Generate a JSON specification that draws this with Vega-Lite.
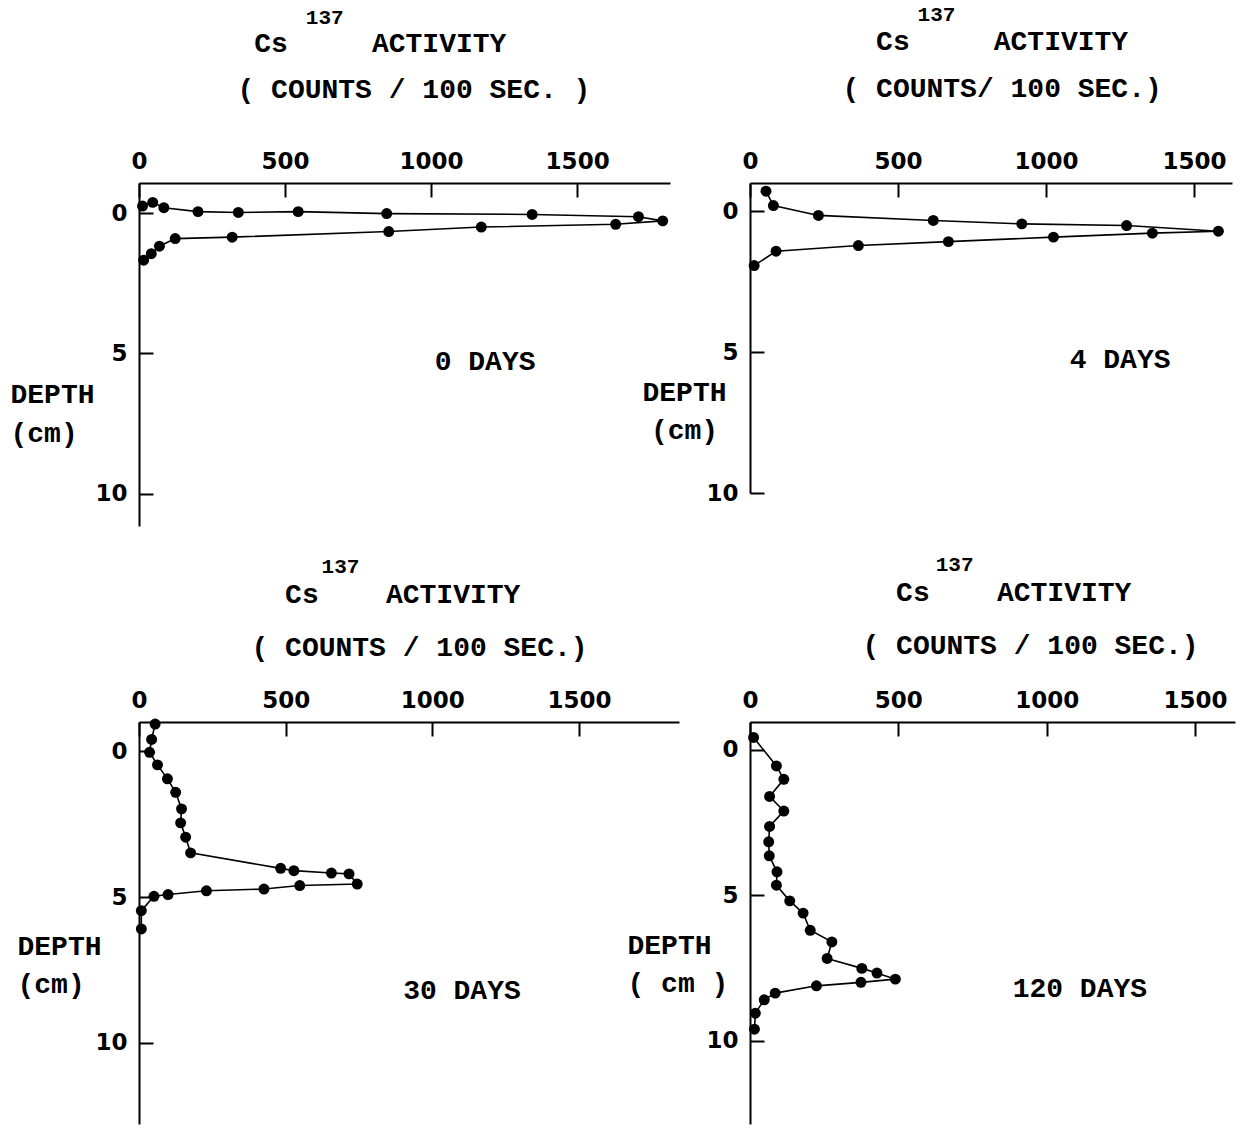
{
  "$schema": "https://vega.github.io/schema/vega-lite/v6.json",
  "background": "white",
  "padding": {"left": 10, "top": 4, "right": 5, "bottom": 5},
  "columns": 2,
  "spacing": {"row": 196, "column": 71},
  "bounds": "flush",
  "align": "each",
  "datasets": {
    "profiles": [
      {"days": 0, "seq": 1, "activity": 12, "depth": -0.25},
      {"days": 0, "seq": 2, "activity": 47, "depth": -0.38},
      {"days": 0, "seq": 3, "activity": 85, "depth": -0.19},
      {"days": 0, "seq": 4, "activity": 202, "depth": -0.05},
      {"days": 0, "seq": 5, "activity": 340, "depth": -0.02},
      {"days": 0, "seq": 6, "activity": 545, "depth": -0.05},
      {"days": 0, "seq": 7, "activity": 848, "depth": 0.02},
      {"days": 0, "seq": 8, "activity": 1346, "depth": 0.05},
      {"days": 0, "seq": 9, "activity": 1710, "depth": 0.13},
      {"days": 0, "seq": 10, "activity": 1793, "depth": 0.28},
      {"days": 0, "seq": 11, "activity": 1632, "depth": 0.40},
      {"days": 0, "seq": 12, "activity": 1172, "depth": 0.50},
      {"days": 0, "seq": 13, "activity": 855, "depth": 0.66},
      {"days": 0, "seq": 14, "activity": 319, "depth": 0.86},
      {"days": 0, "seq": 15, "activity": 124, "depth": 0.91},
      {"days": 0, "seq": 16, "activity": 70, "depth": 1.18},
      {"days": 0, "seq": 17, "activity": 42, "depth": 1.45},
      {"days": 0, "seq": 18, "activity": 16, "depth": 1.68},
      {"days": 4, "seq": 1, "activity": 54, "depth": -0.71},
      {"days": 4, "seq": 2, "activity": 79, "depth": -0.20},
      {"days": 4, "seq": 3, "activity": 231, "depth": 0.15},
      {"days": 4, "seq": 4, "activity": 619, "depth": 0.33},
      {"days": 4, "seq": 5, "activity": 918, "depth": 0.45},
      {"days": 4, "seq": 6, "activity": 1272, "depth": 0.51},
      {"days": 4, "seq": 7, "activity": 1582, "depth": 0.71},
      {"days": 4, "seq": 8, "activity": 1359, "depth": 0.78},
      {"days": 4, "seq": 9, "activity": 1025, "depth": 0.92},
      {"days": 4, "seq": 10, "activity": 670, "depth": 1.08},
      {"days": 4, "seq": 11, "activity": 366, "depth": 1.22},
      {"days": 4, "seq": 12, "activity": 88, "depth": 1.42},
      {"days": 4, "seq": 13, "activity": 14, "depth": 1.93},
      {"days": 30, "seq": 1, "activity": 55, "depth": -0.94},
      {"days": 30, "seq": 2, "activity": 43, "depth": -0.41},
      {"days": 30, "seq": 3, "activity": 36, "depth": 0.03},
      {"days": 30, "seq": 4, "activity": 63, "depth": 0.46},
      {"days": 30, "seq": 5, "activity": 97, "depth": 0.94},
      {"days": 30, "seq": 6, "activity": 125, "depth": 1.40},
      {"days": 30, "seq": 7, "activity": 145, "depth": 1.97},
      {"days": 30, "seq": 8, "activity": 142, "depth": 2.45},
      {"days": 30, "seq": 9, "activity": 159, "depth": 2.94},
      {"days": 30, "seq": 10, "activity": 176, "depth": 3.48},
      {"days": 30, "seq": 11, "activity": 483, "depth": 4.01},
      {"days": 30, "seq": 12, "activity": 528, "depth": 4.09},
      {"days": 30, "seq": 13, "activity": 656, "depth": 4.17},
      {"days": 30, "seq": 14, "activity": 716, "depth": 4.20},
      {"days": 30, "seq": 15, "activity": 744, "depth": 4.55},
      {"days": 30, "seq": 16, "activity": 548, "depth": 4.60},
      {"days": 30, "seq": 17, "activity": 426, "depth": 4.72},
      {"days": 30, "seq": 18, "activity": 230, "depth": 4.78},
      {"days": 30, "seq": 19, "activity": 99, "depth": 4.91},
      {"days": 30, "seq": 20, "activity": 51, "depth": 4.97},
      {"days": 30, "seq": 21, "activity": 8, "depth": 5.46},
      {"days": 30, "seq": 22, "activity": 8, "depth": 6.09},
      {"days": 120, "seq": 1, "activity": 12, "depth": -0.43},
      {"days": 120, "seq": 2, "activity": 89, "depth": 0.55},
      {"days": 120, "seq": 3, "activity": 114, "depth": 1.01},
      {"days": 120, "seq": 4, "activity": 66, "depth": 1.60},
      {"days": 120, "seq": 5, "activity": 114, "depth": 2.10},
      {"days": 120, "seq": 6, "activity": 66, "depth": 2.63},
      {"days": 120, "seq": 7, "activity": 63, "depth": 3.16},
      {"days": 120, "seq": 8, "activity": 65, "depth": 3.64},
      {"days": 120, "seq": 9, "activity": 91, "depth": 4.19},
      {"days": 120, "seq": 10, "activity": 89, "depth": 4.65},
      {"days": 120, "seq": 11, "activity": 134, "depth": 5.19},
      {"days": 120, "seq": 12, "activity": 179, "depth": 5.61},
      {"days": 120, "seq": 13, "activity": 203, "depth": 6.20},
      {"days": 120, "seq": 14, "activity": 276, "depth": 6.60},
      {"days": 120, "seq": 15, "activity": 260, "depth": 7.17},
      {"days": 120, "seq": 16, "activity": 377, "depth": 7.51},
      {"days": 120, "seq": 17, "activity": 428, "depth": 7.67},
      {"days": 120, "seq": 18, "activity": 490, "depth": 7.88},
      {"days": 120, "seq": 19, "activity": 374, "depth": 7.99},
      {"days": 120, "seq": 20, "activity": 224, "depth": 8.11},
      {"days": 120, "seq": 21, "activity": 85, "depth": 8.36},
      {"days": 120, "seq": 22, "activity": 48, "depth": 8.59},
      {"days": 120, "seq": 23, "activity": 18, "depth": 9.05},
      {"days": 120, "seq": 24, "activity": 15, "depth": 9.60}
    ]
  },
  "concat": [
    {
      "width": 531,
      "height": 343,
      "layer": [
        {"data": {"name": "profiles"}, "transform": [{"filter": {"field": "days", "equal": 0}}],
          "mark": {"type": "line", "color": "black", "strokeWidth": 1.6},
          "encoding": {
            "x": {"field": "activity", "type": "quantitative",
              "scale": {"domain": [0, 1818], "nice": false, "zero": false},
              "axis": {"orient": "top", "values": [0, 500, 1000, 1500], "format": "d",
                "title": ["\u200b\u00a0Cs\u00a0\u00a0\u00a0\u00a0\u00a0ACTIVITY", "( COUNTS / 100 SEC. )"],
                "titleAlign": "left", "titleBaseline": "alphabetic", "titleX": 98, "titleY": -132, "titleLineHeight": 46}},
            "y": {"field": "depth", "type": "quantitative",
              "scale": {"domain": [-1.07, 11.15], "nice": false, "zero": false, "reverse": true},
              "axis": {"orient": "left", "values": [0, 5, 10],
                "title": ["DEPTH", "(cm)"],
                "titleAngle": 0, "titleAlign": "left", "titleBaseline": "alphabetic", "titleX": -129, "titleY": 219, "titleLineHeight": 39}},
            "order": {"field": "seq", "type": "quantitative"}}},
        {"data": {"name": "profiles"}, "transform": [{"filter": {"field": "days", "equal": 0}}],
          "mark": {"type": "point", "filled": true, "color": "black", "opacity": 1, "size": 120},
          "encoding": {
            "x": {"field": "activity", "type": "quantitative", "scale": {"domain": [0, 1818], "nice": false, "zero": false}},
            "y": {"field": "depth", "type": "quantitative", "scale": {"domain": [-1.07, 11.15], "nice": false, "zero": false, "reverse": true}}}},
        {"data": {"values": [{"label": "137"}]},
          "mark": {"type": "text", "font": "Liberation Mono", "fontSize": 21, "fontWeight": "bold", "color": "black", "baseline": "middle", "align": "center"},
          "encoding": {
            "x": {"datum": 636, "type": "quantitative", "scale": {"domain": [0, 1818], "nice": false, "zero": false}},
            "y": {"datum": -6.95, "type": "quantitative", "scale": {"domain": [-1.07, 11.15], "nice": false, "zero": false, "reverse": true}},
            "text": {"field": "label"}}},
        {"data": {"values": [{"label": "0 DAYS"}]},
          "mark": {"type": "text", "font": "Liberation Mono", "fontSize": 28, "fontWeight": "bold", "color": "black", "baseline": "middle", "align": "center"},
          "encoding": {
            "x": {"datum": 1185, "type": "quantitative", "scale": {"domain": [0, 1818], "nice": false, "zero": false}},
            "y": {"datum": 5.31, "type": "quantitative", "scale": {"domain": [-1.07, 11.15], "nice": false, "zero": false, "reverse": true}},
            "text": {"field": "label"}}}
      ]
    },
    {
      "width": 482,
      "height": 310,
      "layer": [
        {"data": {"name": "profiles"}, "transform": [{"filter": {"field": "days", "equal": 4}}],
          "mark": {"type": "line", "color": "black", "strokeWidth": 1.6},
          "encoding": {
            "x": {"field": "activity", "type": "quantitative",
              "scale": {"domain": [0, 1628], "nice": false, "zero": false},
              "axis": {"orient": "top", "values": [0, 500, 1000, 1500], "format": "d",
                "title": ["\u200b\u00a0\u00a0Cs\u00a0\u00a0\u00a0\u00a0\u00a0ACTIVITY", "( COUNTS/ 100  SEC.)"],
                "titleAlign": "left", "titleBaseline": "alphabetic", "titleX": 92, "titleY": -134, "titleLineHeight": 47}},
            "y": {"field": "depth", "type": "quantitative",
              "scale": {"domain": [-1.0, 10], "nice": false, "zero": false, "reverse": true},
              "axis": {"orient": "left", "values": [0, 5, 10],
                "title": ["DEPTH", "(cm)"],
                "titleAngle": 0, "titleAlign": "center", "titleBaseline": "alphabetic", "titleX": -66, "titleY": 217, "titleLineHeight": 38}},
            "order": {"field": "seq", "type": "quantitative"}}},
        {"data": {"name": "profiles"}, "transform": [{"filter": {"field": "days", "equal": 4}}],
          "mark": {"type": "point", "filled": true, "color": "black", "opacity": 1, "size": 120},
          "encoding": {
            "x": {"field": "activity", "type": "quantitative", "scale": {"domain": [0, 1628], "nice": false, "zero": false}},
            "y": {"field": "depth", "type": "quantitative", "scale": {"domain": [-1.0, 10], "nice": false, "zero": false, "reverse": true}}}},
        {"data": {"values": [{"label": "137"}]},
          "mark": {"type": "text", "font": "Liberation Mono", "fontSize": 21, "fontWeight": "bold", "color": "black", "baseline": "middle", "align": "center"},
          "encoding": {
            "x": {"datum": 630, "type": "quantitative", "scale": {"domain": [0, 1628], "nice": false, "zero": false}},
            "y": {"datum": -6.95, "type": "quantitative", "scale": {"domain": [-1.0, 10], "nice": false, "zero": false, "reverse": true}},
            "text": {"field": "label"}}},
        {"data": {"values": [{"label": "4 DAYS"}]},
          "mark": {"type": "text", "font": "Liberation Mono", "fontSize": 28, "fontWeight": "bold", "color": "black", "baseline": "middle", "align": "center"},
          "encoding": {
            "x": {"datum": 1250, "type": "quantitative", "scale": {"domain": [0, 1628], "nice": false, "zero": false}},
            "y": {"datum": 5.29, "type": "quantitative", "scale": {"domain": [-1.0, 10], "nice": false, "zero": false, "reverse": true}},
            "text": {"field": "label"}}}
      ]
    },
    {
      "width": 540,
      "height": 402,
      "layer": [
        {"data": {"name": "profiles"}, "transform": [{"filter": {"field": "days", "equal": 30}}],
          "mark": {"type": "line", "color": "black", "strokeWidth": 1.6},
          "encoding": {
            "x": {"field": "activity", "type": "quantitative",
              "scale": {"domain": [0, 1841], "nice": false, "zero": false},
              "axis": {"orient": "top", "values": [0, 500, 1000, 1500], "format": "d",
                "title": ["\u200b\u00a0\u00a0Cs\u00a0\u00a0\u00a0\u00a0ACTIVITY", "( COUNTS / 100 SEC.)"],
                "titleAlign": "left", "titleBaseline": "alphabetic", "titleX": 112, "titleY": -120, "titleLineHeight": 53}},
            "y": {"field": "depth", "type": "quantitative",
              "scale": {"domain": [-1.01, 12.78], "nice": false, "zero": false, "reverse": true},
              "axis": {"orient": "left", "values": [0, 5, 10],
                "title": ["DEPTH", "(cm)"],
                "titleAngle": 0, "titleAlign": "left", "titleBaseline": "alphabetic", "titleX": -122, "titleY": 232, "titleLineHeight": 38}},
            "order": {"field": "seq", "type": "quantitative"}}},
        {"data": {"name": "profiles"}, "transform": [{"filter": {"field": "days", "equal": 30}}],
          "mark": {"type": "point", "filled": true, "color": "black", "opacity": 1, "size": 120},
          "encoding": {
            "x": {"field": "activity", "type": "quantitative", "scale": {"domain": [0, 1841], "nice": false, "zero": false}},
            "y": {"field": "depth", "type": "quantitative", "scale": {"domain": [-1.01, 12.78], "nice": false, "zero": false, "reverse": true}}}},
        {"data": {"values": [{"label": "137"}]},
          "mark": {"type": "text", "font": "Liberation Mono", "fontSize": 21, "fontWeight": "bold", "color": "black", "baseline": "middle", "align": "center"},
          "encoding": {
            "x": {"datum": 687, "type": "quantitative", "scale": {"domain": [0, 1841], "nice": false, "zero": false}},
            "y": {"datum": -6.34, "type": "quantitative", "scale": {"domain": [-1.01, 12.78], "nice": false, "zero": false, "reverse": true}},
            "text": {"field": "label"}}},
        {"data": {"values": [{"label": "30 DAYS"}]},
          "mark": {"type": "text", "font": "Liberation Mono", "fontSize": 28, "fontWeight": "bold", "color": "black", "baseline": "middle", "align": "center"},
          "encoding": {
            "x": {"datum": 1101, "type": "quantitative", "scale": {"domain": [0, 1841], "nice": false, "zero": false}},
            "y": {"datum": 8.22, "type": "quantitative", "scale": {"domain": [-1.01, 12.78], "nice": false, "zero": false, "reverse": true}},
            "text": {"field": "label"}}}
      ]
    },
    {
      "width": 485,
      "height": 402,
      "layer": [
        {"data": {"name": "profiles"}, "transform": [{"filter": {"field": "days", "equal": 120}}],
          "mark": {"type": "line", "color": "black", "strokeWidth": 1.6},
          "encoding": {
            "x": {"field": "activity", "type": "quantitative",
              "scale": {"domain": [0, 1635], "nice": false, "zero": false},
              "axis": {"orient": "top", "values": [0, 500, 1000, 1500], "format": "d",
                "title": ["\u200b\u00a0\u00a0Cs\u00a0\u00a0\u00a0\u00a0ACTIVITY", "( COUNTS / 100 SEC.)"],
                "titleAlign": "left", "titleBaseline": "alphabetic", "titleX": 112, "titleY": -122, "titleLineHeight": 53}},
            "y": {"field": "depth", "type": "quantitative",
              "scale": {"domain": [-0.96, 12.86], "nice": false, "zero": false, "reverse": true},
              "axis": {"orient": "left", "values": [0, 5, 10],
                "title": ["DEPTH", "( cm )"],
                "titleAngle": 0, "titleAlign": "left", "titleBaseline": "alphabetic", "titleX": -123, "titleY": 231, "titleLineHeight": 38}},
            "order": {"field": "seq", "type": "quantitative"}}},
        {"data": {"name": "profiles"}, "transform": [{"filter": {"field": "days", "equal": 120}}],
          "mark": {"type": "point", "filled": true, "color": "black", "opacity": 1, "size": 120},
          "encoding": {
            "x": {"field": "activity", "type": "quantitative", "scale": {"domain": [0, 1635], "nice": false, "zero": false}},
            "y": {"field": "depth", "type": "quantitative", "scale": {"domain": [-0.96, 12.86], "nice": false, "zero": false, "reverse": true}}}},
        {"data": {"values": [{"label": "137"}]},
          "mark": {"type": "text", "font": "Liberation Mono", "fontSize": 21, "fontWeight": "bold", "color": "black", "baseline": "middle", "align": "center"},
          "encoding": {
            "x": {"datum": 690, "type": "quantitative", "scale": {"domain": [0, 1635], "nice": false, "zero": false}},
            "y": {"datum": -6.36, "type": "quantitative", "scale": {"domain": [-0.96, 12.86], "nice": false, "zero": false, "reverse": true}},
            "text": {"field": "label"}}},
        {"data": {"values": [{"label": "120 DAYS"}]},
          "mark": {"type": "text", "font": "Liberation Mono", "fontSize": 28, "fontWeight": "bold", "color": "black", "baseline": "middle", "align": "center"},
          "encoding": {
            "x": {"datum": 1112, "type": "quantitative", "scale": {"domain": [0, 1635], "nice": false, "zero": false}},
            "y": {"datum": 8.22, "type": "quantitative", "scale": {"domain": [-0.96, 12.86], "nice": false, "zero": false, "reverse": true}},
            "text": {"field": "label"}}}
      ]
    }
  ],
  "config": {
    "view": {"stroke": null},
    "axis": {
      "grid": false,
      "domainColor": "black", "domainWidth": 2,
      "tickColor": "black", "tickWidth": 2, "tickSize": -14,
      "labelColor": "black", "labelFont": "DejaVu Sans", "labelFontSize": 23, "labelFontWeight": "bold",
      "labelFlush": false, "labelOverlap": false,
      "titleColor": "black", "titleFont": "Liberation Mono", "titleFontSize": 28, "titleFontWeight": "bold"
    },
    "axisTop": {"labelPadding": 24},
    "axisLeft": {"labelPadding": 26}
  }
}
